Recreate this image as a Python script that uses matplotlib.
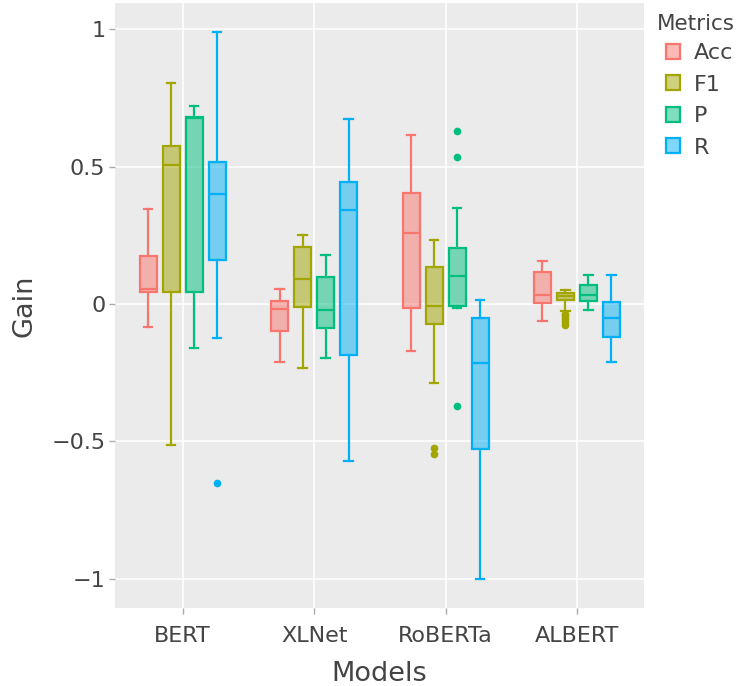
import matplotlib
matplotlib.use("Agg")
import matplotlib.pyplot as plt
from matplotlib.patches import Patch

models = ["BERT", "XLNet", "RoBERTa", "ALBERT"]
metrics = ["Acc", "F1", "P", "R"]
colors = ["#F8766D", "#A3A500", "#00BF7D", "#00B0F6"]

# per metric: lists over models (BERT, XLNet, RoBERTa, ALBERT)
whislo = {
    "Acc": [-0.083, -0.212, -0.170, -0.061],
    "F1":  [-0.514, -0.232, -0.289, -0.025],
    "P":   [-0.161, -0.197, -0.016, -0.022],
    "R":   [-0.123, -0.572, -1.002, -0.212],
}
q1 = {
    "Acc": [0.045, -0.097, -0.013, 0.005],
    "F1":  [0.045, -0.012, -0.074, 0.015],
    "P":   [0.045, -0.087, -0.008, 0.011],
    "R":   [0.160, -0.186, -0.527, -0.121],
}
med = {
    "Acc": [0.054, -0.019, 0.260, 0.033],
    "F1":  [0.506, 0.092, -0.006, 0.030],
    "P":   [0.676, -0.022, 0.102, 0.033],
    "R":   [0.399, 0.342, -0.216, -0.051],
}
q3 = {
    "Acc": [0.175, 0.012, 0.403, 0.115],
    "F1":  [0.576, 0.206, 0.134, 0.041],
    "P":   [0.682, 0.097, 0.203, 0.070],
    "R":   [0.518, 0.444, -0.052, 0.008],
}
whishi = {
    "Acc": [0.346, 0.054, 0.613, 0.158],
    "F1":  [0.804, 0.251, 0.232, 0.051],
    "P":   [0.719, 0.177, 0.349, 0.106],
    "R":   [0.988, 0.674, 0.015, 0.106],
}
fliers = {
    "Acc": [[], [], [], []],
    "F1":  [[], [], [-0.523, -0.544], [-0.035, -0.045, -0.055, -0.065, -0.075]],
    "P":   [[], [], [0.631, 0.533, -0.370], []],
    "R":   [[-0.653], [], [], []],
}
yticks = [-1, -0.5, 0, 0.5, 1]
ytick_labels = ["\u22121", "\u22120.5", "0", "0.5", "1"]

fig = plt.figure(figsize=(7.38, 6.86), dpi=100)
ax = fig.add_axes([115/738, 1 - 608/686, 529/738, 605/686])
ax.set_facecolor("#EBEBEB")
for s in ax.spines.values():
    s.set_visible(False)

spacing = 0.175
bw = 0.13
for i, m in enumerate(metrics):
    stats = []
    for j in range(len(models)):
        stats.append(dict(whislo=whislo[m][j], q1=q1[m][j], med=med[m][j],
                          q3=q3[m][j], whishi=whishi[m][j], fliers=fliers[m][j]))
    pos = [j + (i - 1.5) * spacing for j in range(len(models))]
    c = colors[i]
    ax.bxp(stats, positions=pos, widths=bw, capwidths=0.065, patch_artist=True,
           showfliers=True, manage_ticks=False,
           boxprops=dict(facecolor=matplotlib.colors.to_rgba(c, 0.5), edgecolor=c, linewidth=1.6),
           medianprops=dict(color=c, linewidth=1.6),
           whiskerprops=dict(color=c, linewidth=1.6),
           capprops=dict(color=c, linewidth=1.6),
           flierprops=dict(marker="o", markerfacecolor=c, markeredgecolor=c, markersize=4.5, linestyle="none"),
           zorder=3)

ax.set_xlim(-0.515, 3.51)
ax.set_ylim(-1.106, 1.095)
ax.set_xticks(range(len(models)))
ax.set_xticklabels(models)
ax.set_yticks(yticks)
ax.set_yticklabels(ytick_labels)
ax.tick_params(length=4, width=1, color="#AAAAAA", labelsize=16, labelcolor="#444444", pad=3)
ax.tick_params(axis="x", pad=9)
ax.grid(True, color="white", linewidth=1.1, zorder=0)
ax.set_axisbelow(True)
ax.set_xlabel("Models", fontsize=19.5, color="#444444", labelpad=11)
ax.set_ylabel("Gain", fontsize=19.5, color="#444444", labelpad=10)

fig.text(657/738, 1 - 24/686, "Metrics", fontsize=15.5, color="#444444",
         ha="left", va="center")
handles = [Patch(facecolor=matplotlib.colors.to_rgba(c, 0.5), edgecolor=c, linewidth=1.6, label=m)
           for m, c in zip(metrics, colors)]
leg = fig.legend(handles=handles, loc="upper left",
                 bbox_to_anchor=(666/738, 1 - 43/686), frameon=False,
                 fontsize=16, handlelength=0.65, handleheight=0.65,
                 handletextpad=0.6, labelspacing=0.52, borderaxespad=0, borderpad=0)
for t in leg.get_texts():
    t.set_color("#444444")

fig.savefig("out.png", dpi=100, facecolor="white")
